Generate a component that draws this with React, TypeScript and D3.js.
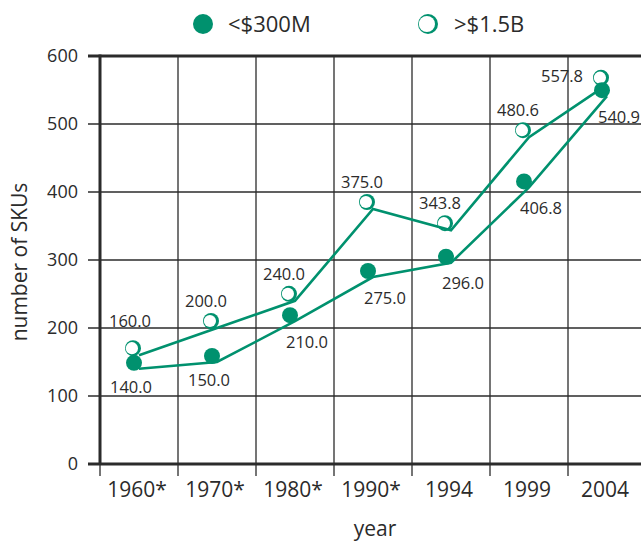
import React from 'react'
import * as d3 from 'd3'

// chart data
const categories = ['1960*', '1970*', '1980*', '1990*', '1994', '1999', '2004']
const smallSeries = [140.0, 150.0, 210.0, 275.0, 296.0, 406.8, 540.9]   // <$300M
const largeSeries = [160.0, 200.0, 240.0, 375.0, 343.8, 480.6, 557.8]   // >$1.5B
const yTicks = [0, 100, 200, 300, 400, 500, 600]
const legendNames = ['<$300M', '>$1.5B']

// where each value label sits, relative to its point
const smallLabelAt = ['below', 'below', 'belowRight', 'belowRight', 'belowRight', 'belowRight', 'belowRight']
const largeLabelAt = ['aboveHigh', 'above', 'above', 'above', 'above', 'above', 'left']

const W = 641
const H = 542
const marginLeft = 100
const plotRight = 646
const marginTop = 56
const plotBottom = 464
const green = '#00916e'
const ink = '#2b2b2b'
const font = '"Open Sans", "Noto Sans", sans-serif'

const labelOffset: Record<string, [number, number]> = {
  below: [-8, 18],
  belowRight: [12, 21],
  above: [-11, -27],
  aboveHigh: [-9, -34],
  left: [-45, -8],
}

function OpenMarker({ cx, cy, r }: { cx: number; cy: number; r: number }) {
  return (
    <g>
      <circle cx={cx} cy={cy} r={r} fill={green} />
      <circle cx={cx - 1.1} cy={cy} r={r - 1.9} fill="white" />
    </g>
  )
}

export default function App() {
  const x = d3.scaleBand<string>().domain(categories).range([marginLeft, plotRight]).padding(0)
  const y = d3.scaleLinear().domain([0, 600]).range([plotBottom, marginTop])
  const cx = (i: number) => (x(categories[i]) as number) + x.bandwidth() / 2

  const line = d3.line<number>()
    .x((_, i) => cx(i))
    .y(d => y(d))

  // markers sit a little up and left of the line vertices, as in the original
  const mdx = -6
  const mdy = -7
  const mr = 8

  const boundaries = categories.map(c => (x(c) as number) + x.bandwidth())

  return (
    <svg width={W} height={H} style={{ position: 'absolute', left: 0, top: 0 }} fontFamily={font}>
      <rect width={W} height={H} fill="white" />

      {/* legend */}
      <circle cx={203} cy={24} r={10} fill={green} />
      <text x={228} y={32} fontSize={22} fill={ink}>{legendNames[0]}</text>
      <OpenMarker cx={428} cy={24} r={10} />
      <text x={454} y={32} fontSize={22} fill={ink}>{legendNames[1]}</text>

      {/* horizontal grid + y ticks */}
      {yTicks.map(t => (
        <g key={t}>
          <line x1={88} x2={plotRight} y1={y(t)} y2={y(t)} stroke={ink}
            strokeWidth={t === 0 || t === 600 ? 3 : 1.3} />
          <text x={78} y={y(t)} dy="0.35em" textAnchor="end" fontSize={18} fill={ink}>{t}</text>
        </g>
      ))}

      {/* vertical grid at band edges, with ticks below axis */}
      {boundaries.map((bx, i) => (
        <line key={i} x1={bx} x2={bx} y1={marginTop} y2={476} stroke={ink} strokeWidth={1.3} />
      ))}
      <line x1={marginLeft} x2={marginLeft} y1={marginTop - 1.5} y2={plotBottom} stroke={ink} strokeWidth={3} />
      <line x1={marginLeft} x2={marginLeft} y1={plotBottom} y2={476} stroke={ink} strokeWidth={1.3} />

      {/* x labels */}
      {categories.map((c, i) => (
        <text key={c} x={cx(i) - 2} y={497} textAnchor="middle" fontSize={21} fill={ink}>{c}</text>
      ))}
      <text x={375} y={536} textAnchor="middle" fontSize={21} fill={ink}>year</text>
      <text transform={`translate(27,262) rotate(-90)`} textAnchor="middle" fontSize={21} fill={ink}>number of SKUs</text>

      {/* markers */}
      {largeSeries.map((v, i) => (
        <OpenMarker key={'o' + i} cx={cx(i) + mdx} cy={y(v) + mdy} r={mr} />
      ))}
      {smallSeries.map((v, i) => (
        <circle key={'f' + i} cx={cx(i) + mdx + 1} cy={y(v) + mdy + 1} r={mr} fill={green} />
      ))}

      {/* lines */}
      <path d={line(largeSeries) as string} fill="none" stroke={green} strokeWidth={2.6} strokeLinejoin="miter" />
      <path d={line(smallSeries) as string} fill="none" stroke={green} strokeWidth={2.6} strokeLinejoin="miter" />

      {/* value labels */}
      {largeSeries.map((v, i) => {
        const [dx, dy] = labelOffset[largeLabelAt[i]]
        return (
          <text key={'lo' + i} x={cx(i) + dx} y={y(v) + dy} dy="0.35em" textAnchor="middle" fontSize={16.5} fill={ink}>
            {v.toFixed(1)}
          </text>
        )
      })}
      {smallSeries.map((v, i) => {
        const [dx, dy] = labelOffset[smallLabelAt[i]]
        return (
          <text key={'ls' + i} x={cx(i) + dx} y={y(v) + dy} dy="0.35em" textAnchor="middle" fontSize={16.5} fill={ink}>
            {v.toFixed(1)}
          </text>
        )
      })}
    </svg>
  )
}
